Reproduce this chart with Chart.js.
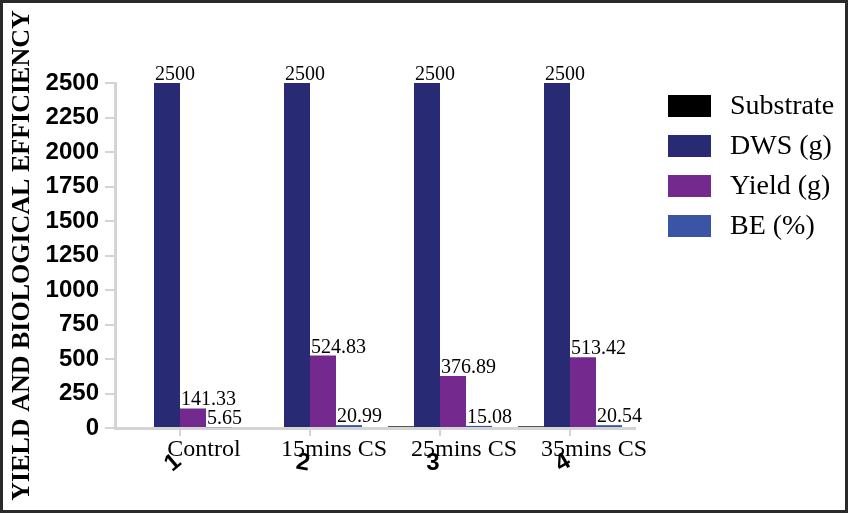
<!DOCTYPE html>
<html><head><meta charset="utf-8">
<script src="https://cdn.jsdelivr.net/npm/chart.js@4/dist/chart.umd.min.js"></script>
<style>html,body{margin:0;padding:0;background:#fff}canvas{display:block}</style>
</head><body>
<canvas id="c" width="848" height="513"></canvas>
<script>
const categories = ['Control', '15mins CS', '25mins CS', '35mins CS'];
const substrate = [0, 0, 12, 12];
const dws = [2500, 2500, 2500, 2500];
const yieldG = [141.33, 524.83, 376.89, 513.42];
const be = [5.65, 20.99, 15.08, 20.54];
const substrateMarks = ['1', '2', '3', '4'];
const seriesNames = ['Substrate', 'DWS (g)', 'Yield (g)', 'BE (%)'];
const seriesColors = ['#000000', '#282a73', '#74298e', '#3a55a5'];
const yTitle = 'YIELD AND BIOLOGICAL EFFICIENCY';

const AXIS = '#d4d4d4';
const SERIF = '"Liberation Serif", "Times New Roman", serif';
const SANS = '"Liberation Sans", Arial, sans-serif';

const extras = {
  id: 'extras',
  beforeDraw(chart) {
    const ctx = chart.ctx;
    ctx.save();
    ctx.fillStyle = '#fff';
    ctx.fillRect(0, 0, chart.width, chart.height);
    ctx.restore();
  },
  afterDraw(chart) {
    const ctx = chart.ctx;
    ctx.save();
    // value labels
    ctx.fillStyle = '#000';
    ctx.font = '20px ' + SERIF;
    ctx.textAlign = 'left';
    ctx.textBaseline = 'alphabetic';
    for (let d = 1; d < chart.data.datasets.length; d++) {
      const meta = chart.getDatasetMeta(d);
      meta.data.forEach((bar, j) => {
        const v = chart.data.datasets[d].data[j];
        ctx.fillText(String(v), bar.x - bar.width / 2 + 1, bar.y - 3);
      });
    }
    // rotated substrate marks below axis
    const xs = chart.scales.x;
    const rots = [-40, 10, 0, -30];
    ctx.font = 'bold 24px ' + SANS;
    ctx.textAlign = 'center';
    ctx.textBaseline = 'middle';
    substrateMarks.forEach((m, i) => {
      const px = xs.getPixelForTick(i) - 7;
      ctx.save();
      ctx.translate(px, 463);
      ctx.rotate(rots[i] * Math.PI / 180);
      ctx.fillText(m, 0, 0);
      ctx.restore();
    });
    // legend
    ctx.font = '28px ' + SERIF;
    ctx.textAlign = 'left';
    ctx.textBaseline = 'middle';
    chart.data.datasets.forEach((ds, i) => {
      const y = 106 + i * 40;
      ctx.fillStyle = ds.backgroundColor;
      ctx.fillRect(668, y - 11, 43, 22);
      ctx.fillStyle = '#000';
      ctx.fillText(ds.label, 730, y + 1);
    });
    // frame
    ctx.strokeStyle = '#2a2a2a';
    ctx.lineWidth = 3;
    ctx.strokeRect(1.5, 1.5, chart.width - 3, chart.height - 3);
    ctx.restore();
  }
};

const datasets = [substrate, dws, yieldG, be].map((arr, i) => ({
  label: seriesNames[i],
  data: arr,
  backgroundColor: seriesColors[i],
  borderWidth: 0,
  barPercentage: 1.0,
  categoryPercentage: 0.8
}));

new Chart(document.getElementById('c'), {
  type: 'bar',
  data: { labels: categories, datasets },
  options: {
    responsive: false,
    animation: false,
    layout: { padding: { left: 0, top: 83, right: 213, bottom: 0 } },
    plugins: { legend: { display: false }, tooltip: { enabled: false } },
    scales: {
      x: {
        grid: { offset: false, drawOnChartArea: false, drawTicks: true, tickLength: 8, color: AXIS, lineWidth: 2 },
        border: { display: true, color: AXIS, width: 3 },
        ticks: { color: '#000', font: { family: SERIF, size: 24 }, labelOffset: 24, padding: -1, maxRotation: 0, autoSkip: false },
        afterFit(s) { s.height = 85; }
      },
      y: {
        min: 0, max: 2500,
        grid: { drawOnChartArea: false, drawTicks: true, tickLength: 10, color: AXIS, lineWidth: 2 },
        border: { display: true, color: AXIS, width: 3 },
        ticks: { stepSize: 250, color: '#000', font: { family: SANS, size: 24, weight: 'bold' }, padding: 6,
                 callback: (v) => String(v) },
        title: { display: true, text: yTitle, color: '#000', font: { family: SERIF, size: 26, weight: 'bold' }, padding: { top: 7, bottom: 0 } },
        afterFit(s) { s.width = 115; }
      }
    }
  },
  plugins: [extras]
});
</script>
</body></html>
